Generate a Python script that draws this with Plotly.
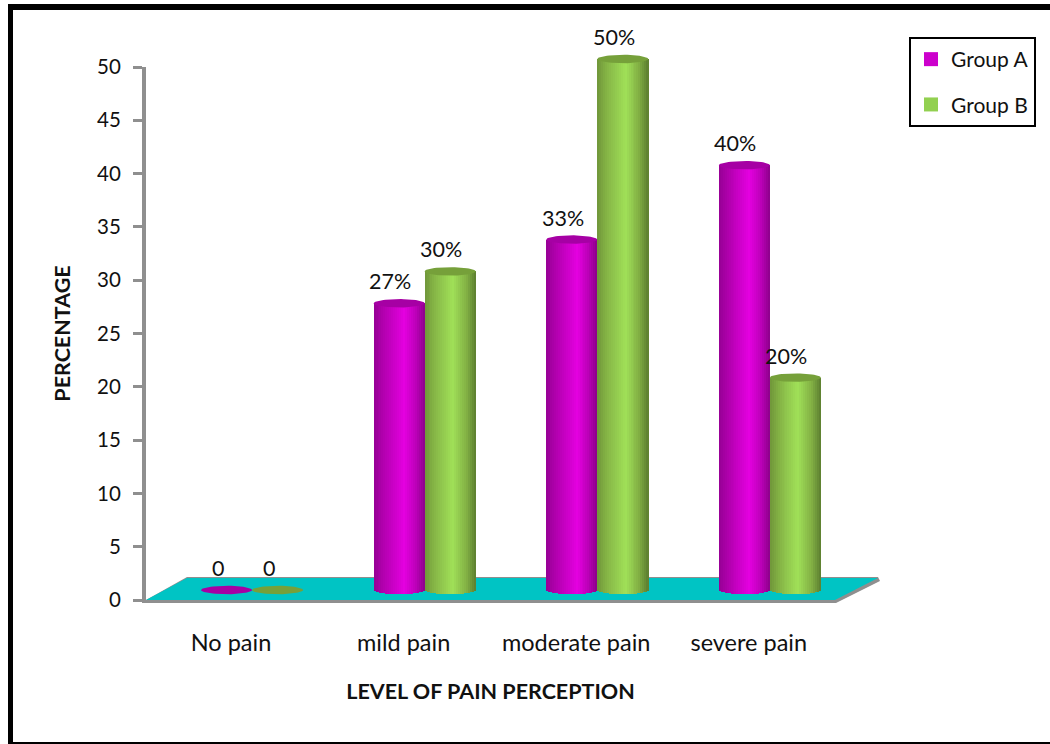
import numpy as np
import plotly.graph_objects as go

# Chart data
categories = ["No pain", "mild pain", "moderate pain", "severe pain"]
group_a = [0, 27, 33, 40]
group_b = [0, 30, 50, 20]
y_ticks = [0, 5, 10, 15, 20, 25, 30, 35, 40, 45, 50]

W, H = 1050, 744
FONT = "Lato, Carlito, Calibri, sans-serif"
GREY = "#8f8f8f"
INK = "#111111"

# Pixel geometry of the two coordinate systems
AX_LEFT, AX_RIGHT, AX_BOTTOM, AX_TOP = 146, 835, 600, 67
UNIT_X = 172.6           # pixels between categories
UNIT_Y = 10.62           # pixels per percentage point on the cylinder axes
LABEL_X0 = 231           # first category label centre
CYL_X0 = 252             # first cylinder pair centre
CYL_Y0 = 590             # floor level of the cylinders
CYL_W = 51 / UNIT_X      # cylinder width, x units
CAP_RY = 4.2 / UNIT_Y    # ellipse half height, y units


def lerp_stops(t, stops):
    """Colour along a list of (pos, (r, g, b)) stops."""
    pos = [s[0] for s in stops]
    rgb = [np.interp(t, pos, [s[1][i] for s in stops]) for i in range(3)]
    return "rgb(%d,%d,%d)" % tuple(int(round(c)) for c in rgb)


magenta_stops = [(0, (150, 0, 148)), (0.18, (176, 0, 172)), (0.6, (228, 0, 224)), (0.82, (190, 0, 186)), (1, (140, 0, 138))]
green_stops = [(0, (112, 150, 58)), (0.2, (134, 182, 70)), (0.55, (160, 224, 88)), (0.82, (130, 176, 68)), (1, (92, 126, 48))]

series = [
    ("Group A", group_a, -0.5, magenta_stops, "#a600a4", "#cc00cc"),
    ("Group B", group_b, 0.5, green_stops, "#76a03a", "#92d050"),
]

fig = go.Figure()

positions = np.arange(len(categories))
N_STRIPS = 26

for name, values, side, stops, cap_color, key_color in series:
    vals = np.array(values, dtype=float)
    centres = positions + side * CYL_W
    step = CYL_W / N_STRIPS

    # Cylinder body: narrow shaded strips with a curved lower end
    for k in range(N_STRIPS):
        t = (k + 0.5) / N_STRIPS
        sag = CAP_RY * np.sqrt(max(0.0, 1 - (2 * t - 1) ** 2))
        fig.add_trace(go.Bar(
            x=centres,
            y=np.where(vals > 0, vals + sag, 0),
            base=np.where(vals > 0, -sag, 0),
            width=step * 1.25,
            offset=-CYL_W / 2 + k * step,
            marker=dict(color=lerp_stops(t, stops), line=dict(width=0)),
            xaxis="x2", yaxis="y2",
            showlegend=False, hoverinfo="skip",
        ))

    # Elliptical cap sitting on each value
    theta = np.linspace(0, 2 * np.pi, 60)
    for c, v in zip(centres, vals):
        fig.add_trace(go.Scatter(
            x=c + CYL_W / 2 * np.cos(theta),
            y=v + CAP_RY * np.sin(theta),
            mode="lines", fill="toself", fillcolor=cap_color,
            line=dict(width=0, color=cap_color),
            xaxis="x2", yaxis="y2",
            showlegend=False, hoverinfo="skip",
        ))

    # Legend key
    fig.add_trace(go.Scatter(
        x=[None], y=[None], mode="markers", name=name,
        legendgroup=name,
        marker=dict(symbol="square", size=14, color=key_color),
        xaxis="x2", yaxis="y2",
    ))

    # Value labels above each cylinder
    for c, v in zip(centres, values):
        fig.add_annotation(
            x=c, y=v, xref="x2", yref="y2",
            text=f"{v}%" if v else "0",
            showarrow=False, xshift=-9, yshift=22,
            font=dict(family=FONT, size=21.5, color=INK),
        )

# Teal floor with a grey rim, drawn behind the cylinders
path = lambda pts: "M " + " L ".join(f"{x / W:.5f},{1 - y / H:.5f}" for x, y in pts) + " Z"
floor_pts = [(146, 600), (187, 578), (878, 578), (835, 600)]
rim_pts = [(146, 600), (187, 577), (878, 577), (880, 581), (836, 603), (146, 603)]


def frame_bar(x0, y0, x1, y1):
    return dict(type="rect", xref="paper", yref="paper",
                x0=x0 / W, x1=x1 / W, y0=1 - y1 / H, y1=1 - y0 / H,
                fillcolor="black", line=dict(width=0), layer="above")


shapes = [
    dict(type="path", xref="paper", yref="paper", path=path(rim_pts), fillcolor=GREY, line=dict(width=0), layer="below"),
    dict(type="path", xref="paper", yref="paper", path=path(floor_pts), fillcolor="#00c4c4", line=dict(width=0), layer="below"),
    # Outer frame: top, left and bottom edges
    frame_bar(8, 4, W, 10),
    frame_bar(8, 4, 13, 744),
    frame_bar(8, 742, W, 744),
]

fig.update_layout(
    width=W, height=H,
    margin=dict(l=0, r=0, t=0, b=0),
    autosize=False,
    paper_bgcolor="white", plot_bgcolor="rgba(0,0,0,0)",
    barmode="overlay", bargap=0,
    showlegend=True,
    font=dict(family=FONT, size=20, color=INK),
    shapes=shapes,
    legend=dict(
        x=909 / W, y=1 - 37 / H, xanchor="left", yanchor="top",
        bgcolor="white", bordercolor="black", borderwidth=2,
        font=dict(family=FONT, size=21, color=INK),
        tracegroupgap=15, itemsizing="trace",
        entrywidth=87, entrywidthmode="pixels",
    ),
    xaxis=dict(
        domain=[AX_LEFT / W, AX_RIGHT / W],
        range=[(AX_LEFT - LABEL_X0) / UNIT_X, (AX_RIGHT - LABEL_X0) / UNIT_X],
        tickmode="array", tickvals=list(positions), ticktext=categories,
        ticks="", showgrid=False, zeroline=False,
        showline=True, linecolor=GREY, linewidth=3,
        tickfont=dict(family=FONT, size=23.5),
        ticklabelstandoff=20,
        automargin="height",
        title=dict(text="<b>LEVEL OF PAIN PERCEPTION</b>", standoff=29,
                   font=dict(family=FONT, size=21.5, color=INK)),
    ),
    yaxis=dict(
        domain=[1 - AX_BOTTOM / H, 1 - AX_TOP / H],
        range=[0, 50],
        tickmode="array", tickvals=y_ticks,
        ticks="outside", ticklen=9, tickwidth=3, tickcolor=GREY,
        ticklabelstandoff=8,
        showgrid=False, zeroline=False,
        showline=True, linecolor=GREY, linewidth=4,
        tickfont=dict(family=FONT, size=20.5),
        automargin="width",
        title=dict(text="<b>PERCENTAGE</b>", standoff=22,
                   font=dict(family=FONT, size=21.5, color=INK)),
    ),
    # Hidden axes for the cylinders, offset into the depth of the floor
    xaxis2=dict(domain=[0, 1], range=[-CYL_X0 / UNIT_X, (W - CYL_X0) / UNIT_X],
                visible=False, anchor="y2"),
    yaxis2=dict(domain=[0, 1], range=[(CYL_Y0 - H) / UNIT_Y, CYL_Y0 / UNIT_Y],
                visible=False, anchor="x2"),
)

# Keeps the visible axes in the figure even though every trace uses the hidden pair
fig.add_trace(go.Scatter(x=[None], y=[None], xaxis="x", yaxis="y", showlegend=False, hoverinfo="skip"))

fig.write_html("out.html")
